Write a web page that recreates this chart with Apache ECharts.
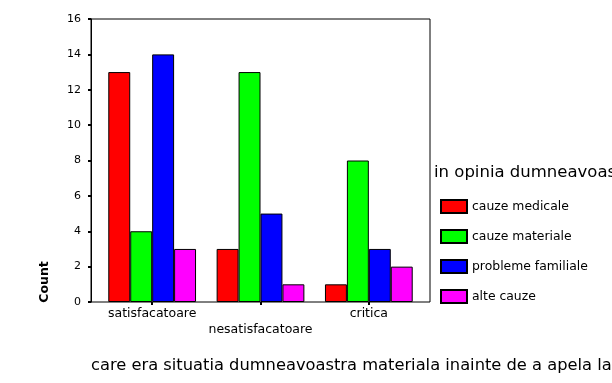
<!DOCTYPE html>
<html>
<head>
<meta charset="utf-8">
<script src="https://cdn.jsdelivr.net/npm/echarts@6/dist/echarts.min.js"></script>
<style>html,body{margin:0;padding:0;background:#fff;}#c{width:612px;height:383px;}</style>
</head>
<body>
<div id="c"></div>
<script>
var categories = ['satisfacatoare', 'nesatisfacatoare', 'critica'];
var seriesNames = ['cauze medicale', 'cauze materiale', 'probleme familiale', 'alte cauze'];
var cauzeMedicale = [13, 3, 1];
var cauzeMateriale = [4, 13, 8];
var problemeFamiliale = [14, 5, 3];
var alteCauze = [3, 1, 2];
var seriesColors = ['#ff0000', '#00ff00', '#0000ff', '#ff00ff'];
var yTicks = [0, 2, 4, 6, 8, 10, 12, 14, 16];
var xTitle = 'care era situatia dumneavoastra materiala inainte de a apela la';
var legendTitle = 'in opinia dumneavoastra';
var yTitle = 'Count';

var values = [cauzeMedicale, cauzeMateriale, problemeFamiliale, alteCauze];
var FONT = 'DejaVu Sans';

var chart = echarts.init(document.getElementById('c'), null, {renderer: 'canvas'});
chart.setOption({
  animation: false,
  backgroundColor: '#fff',
  textStyle: {fontFamily: FONT, color: '#000'},
  grid: [
    {left: 91, top: 19, width: 339, height: 283, show: true, borderColor: '#000', borderWidth: 1, backgroundColor: 'transparent'},
    {left: 98, top: 19, width: 325, height: 283}
  ],
  xAxis: [
    {gridIndex: 0, type: 'value', min: 0, max: 1, show: false},
    {gridIndex: 1, type: 'category', data: categories,
     axisLine: {show: false},
     axisTick: {show: true, alignWithLabel: true, length: 3, lineStyle: {color: '#000', width: 2}},
     axisLabel: {interval: 0, margin: 4, color: '#000', fontFamily: FONT, fontSize: 12.5, lineHeight: 16,
       formatter: function (v, i) { return i % 2 ? '\n' + v : v; }},
     splitLine: {show: false}}
  ],
  yAxis: [
    {gridIndex: 0, type: 'value', min: yTicks[0], max: yTicks[yTicks.length - 1], interval: 2,
     axisLine: {show: true, lineStyle: {color: '#000', width: 1}},
     axisTick: {show: true, length: 3, lineStyle: {color: '#000', width: 2}},
     axisLabel: {margin: 10, color: '#000', fontFamily: FONT, fontSize: 11},
     splitLine: {show: false}},
    {gridIndex: 1, type: 'value', min: yTicks[0], max: yTicks[yTicks.length - 1], show: false}
  ],
  legend: {
    orient: 'vertical', left: 440, top: 199, padding: 0, itemWidth: 26, itemHeight: 13, itemGap: 15,
    icon: 'rect',
    textStyle: {fontFamily: FONT, fontSize: 12.4, color: '#000'},
    data: seriesNames
  },
  series: seriesNames.map(function (n, k) {
    return {
      name: n, type: 'bar', xAxisIndex: 1, yAxisIndex: 1,
      data: values[k], barGap: '0%', barCategoryGap: '19%',
      itemStyle: {color: seriesColors[k], borderColor: '#000', borderWidth: 1}
    };
  }),
  graphic: [
    {type: 'text', left: 91, top: 358, style: {text: xTitle, fontFamily: FONT, fontSize: 16.3, fill: '#000'}},
    {type: 'text', left: 434, top: 164, style: {text: legendTitle, fontFamily: FONT, fontSize: 16.5, fill: '#000'}},
    {type: 'text', x: 45, y: 282, rotation: Math.PI / 2,
     style: {text: yTitle, fontFamily: FONT, fontSize: 12.5, fontWeight: 'bold', fill: '#000', align: 'center', verticalAlign: 'middle'}}
  ]
});
</script>
</body>
</html>
